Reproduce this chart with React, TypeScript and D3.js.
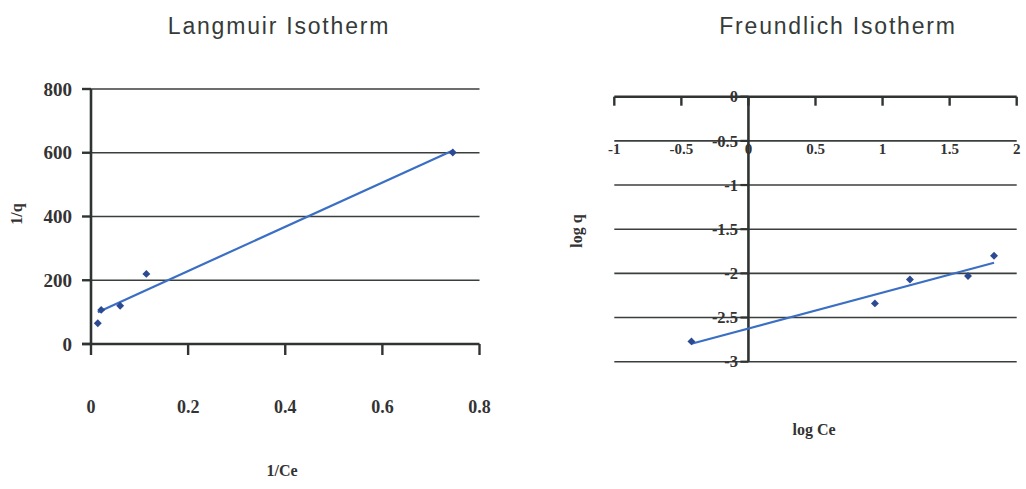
import React from "react";
import * as d3 from "d3";

// Langmuir: 1/Ce vs 1/q
const langmuirX = [0.014, 0.021, 0.06, 0.114, 0.745];
const langmuirY = [65, 107, 120, 220, 601];
const langmuirXTicks = [0, 0.2, 0.4, 0.6, 0.8];
const langmuirYTicks = [0, 200, 400, 600, 800];

// Freundlich: log Ce vs log q
const freundlichX = [-0.425, 0.943, 1.204, 1.637, 1.831];
const freundlichY = [-2.77, -2.34, -2.07, -2.03, -1.8];
const freundlichXTicks = [-1, -0.5, 0, 0.5, 1, 1.5, 2];
const freundlichYTicks = [0, -0.5, -1, -1.5, -2, -2.5, -3];

const axisColor = "#2f3432";
const gridColor = "#3a3e3c";
const lineColor = "#3a6fc4";
const dotColor = "#2b4a92";
const serif = "'Liberation Serif', 'Times New Roman', serif";
const sans = "'Liberation Sans', Arial, sans-serif";

// least squares trend line
function fit(xs: number[], ys: number[]) {
  const mx = d3.mean(xs)!;
  const my = d3.mean(ys)!;
  const sxy = d3.sum(xs, (x, i) => (x - mx) * (ys[i] - my));
  const sxx = d3.sum(xs, (x) => (x - mx) ** 2);
  const slope = sxy / sxx;
  return (x: number) => my + slope * (x - mx);
}

const diamond = d3.symbol(d3.symbolDiamond2, 40)()!;

const Langmuir = () => {
  const x = d3.scaleLinear().domain([0, 0.8]).range([91, 479.5]);
  const y = d3.scaleLinear().domain([0, 800]).range([344, 89]);
  const f = fit(langmuirX, langmuirY);
  const x0 = d3.min(langmuirX)!;
  const x1 = d3.max(langmuirX)!;

  return (
    <g>
      <text x={279} y={34} textAnchor="middle" fontFamily={sans} fontSize={23}
        letterSpacing={1.8} fill="#353b39">Langmuir Isotherm</text>

      {/* gridlines */}
      {langmuirYTicks.slice(1).map((t) => (
        <line key={t} x1={x(0)} x2={x(0.8)} y1={y(t)} y2={y(t)}
          stroke={gridColor} strokeWidth={1.6} />
      ))}

      {/* y axis */}
      <line x1={x(0)} x2={x(0)} y1={y(800)} y2={y(0)} stroke={axisColor} strokeWidth={2.6} />
      {langmuirYTicks.map((t) => (
        <g key={t}>
          <line x1={x(0) - 9} x2={x(0)} y1={y(t)} y2={y(t)} stroke={axisColor} strokeWidth={2.4} />
          <text x={72} y={y(t)} dy="0.35em" textAnchor="end" fontFamily={serif}
            fontWeight="bold" fontSize={19} fill="#333">{t}</text>
        </g>
      ))}

      {/* x axis */}
      <line x1={x(0) - 9} x2={x(0.8)} y1={y(0)} y2={y(0)} stroke={axisColor} strokeWidth={2.6} />
      {langmuirXTicks.map((t) => (
        <g key={t}>
          <line x1={x(t)} x2={x(t)} y1={y(0)} y2={y(0) + 11} stroke={axisColor} strokeWidth={2.4} />
          <text x={x(t)} y={413} textAnchor="middle" fontFamily={serif}
            fontWeight="bold" fontSize={18} fill="#333">{t}</text>
        </g>
      ))}

      <text x={282} y={476} textAnchor="middle" fontFamily={serif} fontWeight="bold"
        fontSize={16} fill="#333">1/Ce</text>
      <text transform="translate(22,214) rotate(-90)" textAnchor="middle" fontFamily={serif}
        fontWeight="bold" fontSize={16} fill="#333">1/q</text>

      <line x1={x(x0)} x2={x(x1)} y1={y(f(x0))} y2={y(f(x1))} stroke={lineColor} strokeWidth={2.2} />
      {langmuirX.map((v, i) => (
        <path key={i} d={diamond} transform={`translate(${x(v)},${y(langmuirY[i])})`} fill={dotColor} />
      ))}
    </g>
  );
};

const Freundlich = () => {
  const x = d3.scaleLinear().domain([-1, 2]).range([614.3, 1016.7]);
  const y = d3.scaleLinear().domain([-3, 0]).range([361.7, 96.7]);
  const f = fit(freundlichX, freundlichY);
  const x0 = d3.min(freundlichX)!;
  const x1 = d3.max(freundlichX)!;

  return (
    <g>
      <text x={838} y={34} textAnchor="middle" fontFamily={sans} fontSize={23}
        letterSpacing={1.8} fill="#353b39">Freundlich Isotherm</text>

      {/* gridlines */}
      {freundlichYTicks.slice(1).map((t) => (
        <line key={t} x1={x(-1)} x2={x(2)} y1={y(t)} y2={y(t)}
          stroke={gridColor} strokeWidth={1.6} />
      ))}

      {/* x axis at y = 0 */}
      <line x1={x(-1)} x2={x(2)} y1={y(0)} y2={y(0)} stroke={axisColor} strokeWidth={2.6} />
      {freundlichXTicks.map((t) => (
        <g key={t}>
          <line x1={x(t)} x2={x(t)} y1={y(0)} y2={y(0) + 9} stroke={axisColor} strokeWidth={2.4} />
          <text x={x(t)} y={154} textAnchor="middle" fontFamily={serif}
            fontWeight="bold" fontSize={15} fill="#333">{t}</text>
        </g>
      ))}

      {/* y axis at x = 0 */}
      <line x1={x(0)} x2={x(0)} y1={y(0)} y2={y(-3)} stroke={axisColor} strokeWidth={2.6} />
      {freundlichYTicks.map((t) => (
        <g key={t}>
          <line x1={x(0) - 8} x2={x(0)} y1={y(t)} y2={y(t)} stroke={axisColor} strokeWidth={2.2} />
          <text x={738} y={y(t)} dy="0.35em" textAnchor="end" fontFamily={serif}
            fontWeight="bold" fontSize={16.5} fill="#333">{t}</text>
        </g>
      ))}

      <text x={814} y={435} textAnchor="middle" fontFamily={serif} fontWeight="bold"
        fontSize={16} fill="#333">log Ce</text>
      <text transform="translate(582,231) rotate(-90)" textAnchor="middle" fontFamily={serif}
        fontWeight="bold" fontSize={16} fill="#333">log q</text>

      <line x1={x(x0)} x2={x(x1)} y1={y(f(x0))} y2={y(f(x1))} stroke={lineColor} strokeWidth={2.2} />
      {freundlichX.map((v, i) => (
        <path key={i} d={diamond} transform={`translate(${x(v)},${y(freundlichY[i])})`} fill={dotColor} />
      ))}
    </g>
  );
};

export default function App() {
  return (
    <svg width={1026} height={489} style={{ position: "absolute", left: 0, top: 0, background: "#fff" }}>
      <Langmuir />
      <Freundlich />
    </svg>
  );
}
